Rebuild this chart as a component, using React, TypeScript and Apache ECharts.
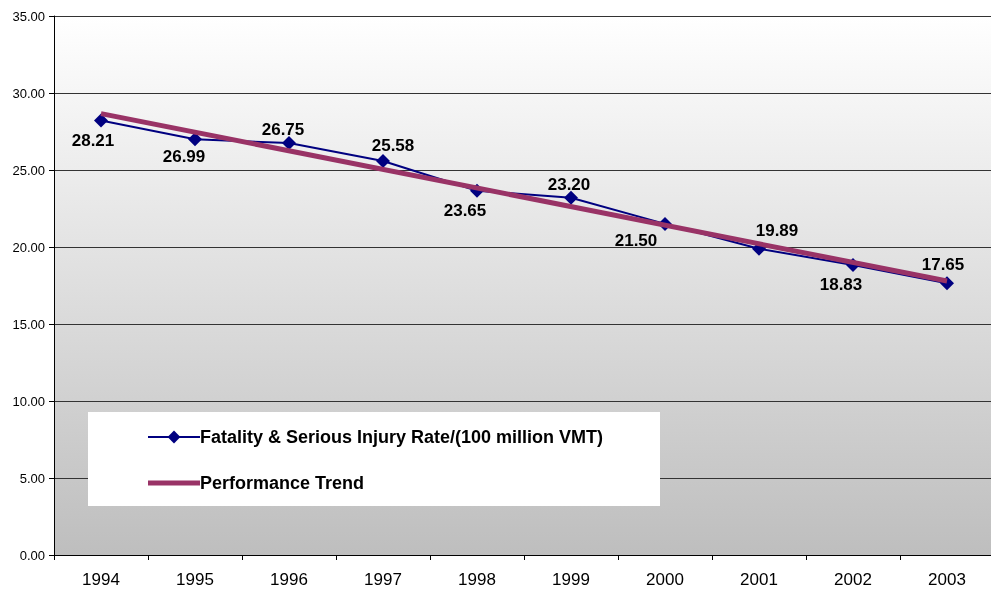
import React, { useEffect, useRef } from "react";
import * as echarts from "echarts";

const categories = ["1994", "1995", "1996", "1997", "1998", "1999", "2000", "2001", "2002", "2003"];
const rateValues = [28.21, 26.99, 26.75, 25.58, 23.65, 23.2, 21.5, 19.89, 18.83, 17.65];
// trend line endpoints at first and last category
const trendValues: (number | string)[] = [28.66, "-", "-", "-", "-", "-", "-", "-", "-", 17.79];
// label offsets relative to point
const labelOffsets: [number, number][] = [
  [-8, 20], [-11, 17], [-6, -14], [10, -16], [-12, 20],
  [-2, -13], [-29, 17], [18, -18], [-12, 19], [-4, -19],
];

export default function App() {
  const ref = useRef<HTMLDivElement>(null);
  useEffect(() => {
    if (!ref.current) return;
    const chart = echarts.init(ref.current, undefined, { renderer: "svg" });
    const font = "'Liberation Sans', Arial, sans-serif";
    chart.setOption({
      animation: false,
      textStyle: { fontFamily: font },
      grid: {
        left: 54, top: 16, right: 0, bottom: 43, containLabel: false, show: true,
        borderWidth: 0,
        backgroundColor: new echarts.graphic.LinearGradient(0, 0, 0, 1, [
          { offset: 0, color: "#ffffff" },
          { offset: 1, color: "#bebebe" },
        ]),
      },
      graphic: [
        {
          type: "rect", z: 1,
          shape: { x: 88, y: 412, width: 572, height: 94 },
          style: { fill: "#ffffff" },
        },
      ],
      legend: {
        orient: "vertical", left: 142, top: 423, itemWidth: 52, itemHeight: 16, itemGap: 28,
        z: 5,
        textStyle: { fontFamily: font, fontSize: 18, fontWeight: "bold", color: "#000", padding: [0, 0, 0, -5] },
        data: [
          { name: "Fatality & Serious Injury Rate/(100 million VMT)" },
          { name: "Performance Trend", icon: "path://M0,0 L52,0 L52,5 L0,5 Z" },
        ],
      },
      xAxis: {
        type: "category", data: categories, boundaryGap: true,
        axisLine: { lineStyle: { color: "#000", width: 1 } },
        axisTick: { show: true, length: 5, lineStyle: { color: "#000" } },
        axisLabel: { fontSize: 17, color: "#000", margin: 16, fontFamily: font },
        splitLine: { show: false },
      },
      yAxis: {
        type: "value", min: 0, max: 35, interval: 5,
        axisLine: { show: true, lineStyle: { color: "#000", width: 1 } },
        axisTick: { show: true, length: 5, lineStyle: { color: "#000" } },
        axisLabel: { fontSize: 13, color: "#000", margin: 9, fontFamily: font, formatter: (v: number) => v.toFixed(2) },
        splitLine: { show: true, lineStyle: { color: "#333", width: 1 } },
      },
      series: [
        {
          name: "Fatality & Serious Injury Rate/(100 million VMT)",
          type: "line",
          data: rateValues.map((v, i) => ({
            value: v,
            label: { offset: labelOffsets[i] },
          })),
          color: "#000080",
          lineStyle: { color: "#000080", width: 2 },
          symbol: "diamond", symbolSize: 14,
          itemStyle: { color: "#000080" },
          label: {
            show: true, position: "inside", align: "center", verticalAlign: "middle",
            fontSize: 17, fontWeight: "bold", color: "#000", fontFamily: font,
            formatter: (p: any) => Number(p.value).toFixed(2),
          },
          z: 2,
        },
        {
          name: "Performance Trend",
          type: "line",
          data: trendValues,
          connectNulls: true,
          color: "#993366",
          lineStyle: { color: "#993366", width: 5 },
          symbol: "none",
          z: 3,
        },
      ],
    });
    return () => chart.dispose();
  }, []);
  return (
    <div style={{ position: "fixed", left: 0, top: 0, width: 991, height: 598, overflow: "hidden" }}>
      <div ref={ref} style={{ width: 994, height: 598 }} />
    </div>
  );
}
